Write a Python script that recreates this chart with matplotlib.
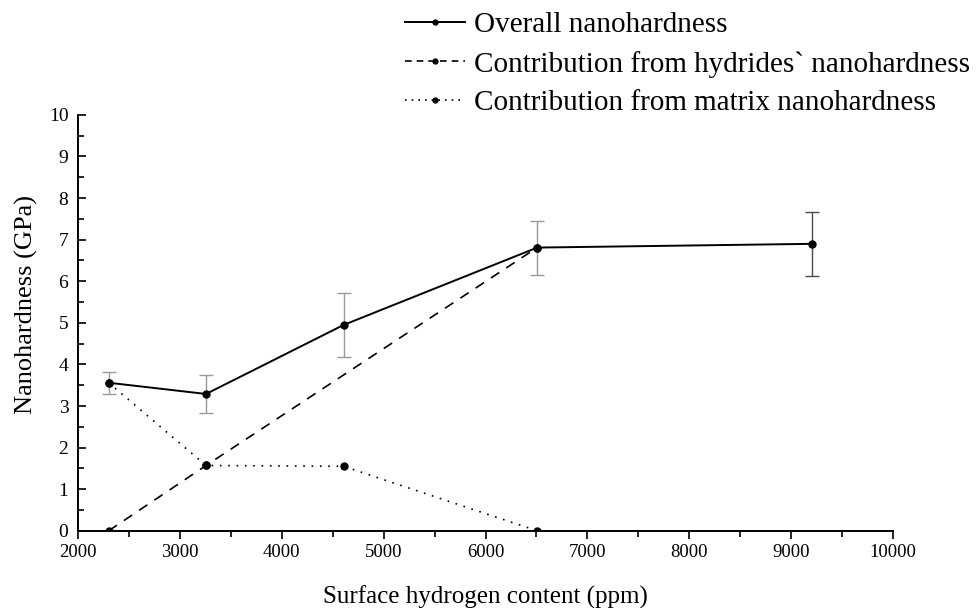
import matplotlib
matplotlib.use("Agg")
import matplotlib.pyplot as plt
from matplotlib.ticker import MultipleLocator
from matplotlib.lines import Line2D

plt.rcParams['font.family'] = ['Liberation Serif', 'DejaVu Serif']

# Data
overall_x = [2300, 3256, 4607, 6507, 9203]
overall_y = [3.56, 3.29, 4.95, 6.81, 6.90]
overall_err = [0.26, 0.45, 0.76, 0.65, 0.77]

hydride_x = [2300, 3256, 6507]
hydride_y = [0.0, 1.57, 6.81]

matrix_x = [2300, 3256, 4607, 6507]
matrix_y = [3.56, 1.57, 1.55, 0.0]

labels = ["Overall nanohardness",
          "Contribution from hydrides` nanohardness",
          "Contribution from matrix nanohardness"]

err_colors = ['#9a9a9a', '#9a9a9a', '#9a9a9a', '#9a9a9a', '#4a4a4a']

fig = plt.figure(figsize=(9.76, 6.08), dpi=100)
ax = fig.add_axes([0.080, 0.127, 0.835, 0.684])

for xi, yi, ei, ci in zip(overall_x, overall_y, overall_err, err_colors):
    ax.errorbar([xi], [yi], yerr=[ei], fmt='none', ecolor=ci,
                elinewidth=1.0, capsize=5, capthick=1.0, zorder=2)
ax.plot(overall_x, overall_y, '-', color='black', lw=1.4, marker='o', ms=5, zorder=3)
ax.plot(hydride_x, hydride_y, '--', color='black', lw=1.2, marker='o', ms=5,
        dashes=(6, 5), zorder=3)
ax.plot(matrix_x, matrix_y, ':', color='black', lw=1.2, marker='o', ms=5,
        dashes=(1, 4), zorder=3)

ax.set_xlim(2000, 10000)
ax.set_ylim(0, 10)
ax.xaxis.set_major_locator(MultipleLocator(1000))
ax.xaxis.set_minor_locator(MultipleLocator(500))
ax.yaxis.set_major_locator(MultipleLocator(1))
ax.yaxis.set_minor_locator(MultipleLocator(0.5))

for s in ['top', 'right']:
    ax.spines[s].set_visible(False)
for s in ['left', 'bottom']:
    ax.spines[s].set_linewidth(1.4)

ax.tick_params(axis='x', which='both', direction='out', labelsize=13.5, width=1.2)
ax.tick_params(axis='x', which='major', length=6)
ax.tick_params(axis='x', which='minor', length=4)
ax.tick_params(axis='y', which='both', direction='in', labelsize=14, width=1.2, pad=7)
ax.tick_params(axis='y', which='major', length=6)
ax.tick_params(axis='y', which='minor', length=4)

ax.set_xlabel("Surface hydrogen content (ppm)", fontsize=18, labelpad=18)
ax.set_ylabel("Nanohardness (GPa)", fontsize=19, labelpad=8)
ax.yaxis.label.set_y(0.545)

h1 = Line2D([], [], color='black', lw=1.4, ls='-', marker='o', ms=3.5)
h2 = Line2D([], [], color='black', lw=1.2, ls='--', dashes=(4, 3), marker='o', ms=3.5)
h3 = Line2D([], [], color='black', lw=1.2, ls=':', dashes=(1, 3), marker='o', ms=3.5)
fig.legend([h1, h2, h3], labels, loc='upper left', bbox_to_anchor=(0.409, 0.990),
           frameon=False, fontsize=21,
           handlelength=2.07, handletextpad=0.28,
           labelspacing=0.42, borderpad=0.2, borderaxespad=0)

fig.savefig("out.png", dpi=100)
